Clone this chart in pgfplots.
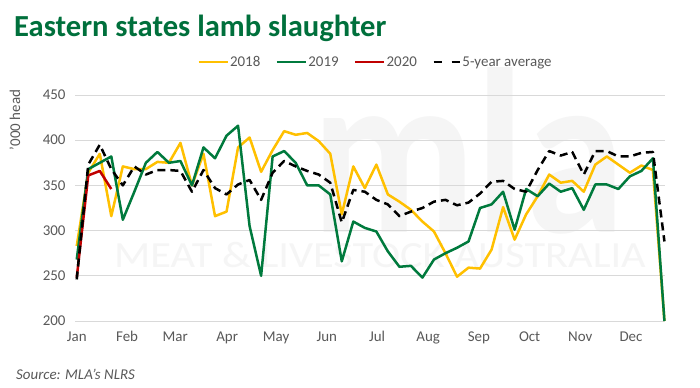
\documentclass[border=0pt]{standalone}
\usepackage{pgfplots}
\pgfplotsset{compat=1.18}
\usepackage{fontspec}
\setmainfont{Carlito}
\definecolor{mlagreen}{RGB}{0,122,61}
\definecolor{titlegreen}{RGB}{0,112,60}
\definecolor{gold}{RGB}{255,192,0}
\definecolor{xred}{RGB}{192,0,0}
\definecolor{txt}{RGB}{89,89,89}
\definecolor{gridc}{RGB}{217,217,217}
\definecolor{wm}{RGB}{245,245,245}

\pgfplotstableread{
i y2018 y2019 avg
0 283 268 246
1 364 368 373
2 385 375 395
3 316 382 368
4 371 312 350
5 368 343 371
6 368 375 362
7 376 387 367
8 375 375 367
9 397 377 366
10 350 350 343
11 385 392 367
12 316 380 347
13 321 405 340
14 392 416 351
15 403 305 356
16 365 250 334
17 389 382 364
18 410 388 377
19 406 375 371
20 408 350 366
21 399 350 362
22 385 340 353
23 318 266 309
24 371 310 345
25 347 303 343
26 373 299 334
27 340 277 329
28 332 260 316
29 323 261 321
30 310 248 325
31 299 268 332
32 275 275 334
33 249 281 328
34 259 288 331
35 258 325 341
36 279 329 354
37 326 343 355
38 290 301 346
39 318 346 343
40 338 338 367
41 362 352 388
42 353 343 383
43 355 347 387
44 343 323 362
45 373 351 388
46 382 351 388
47 373 346 382
48 364 360 382
49 372 366 386
50 367 380 387
51 200 200 288
}\datatable

\pgfplotstableread{
i y2020
0 248
1 361
2 366
3 346
}\redtable

\begin{document}
\begin{tikzpicture}[x=1bp,y=1bp]
\fill[white] (0,0) rectangle (700,387);
% watermark
\node[inner sep=0, text=wm, xscale=0.86, font=\fontsize{236}{236}\selectfont\bfseries, anchor=base] at (468,155) {mla};
\node[inner sep=0, text=wm, xscale=1.15, font=\fontsize{37}{37}\selectfont] at (380,132) {MEAT \& LIVESTOCK AUSTRALIA};
% title
\node[inner sep=0, anchor=base west, text=titlegreen, font=\fontsize{30.7}{30.7}\selectfont\bfseries] at (14,351) {Eastern states lamb slaughter};
% source
\node[inner sep=0, anchor=base west, text=txt, font=\fontsize{15}{15}\selectfont\itshape] at (16,8) {Source: MLA’s NLRS};
% y label
\node[inner sep=0, rotate=90, text=txt, font=\fontsize{15}{15}\selectfont] at (15,267) {’000 head};
\begin{axis}[
  at={(75bp,66bp)}, anchor=south west,
  scale only axis, width=590bp, height=226bp,
  xmin=-0.15, xmax=51.05, ymin=200, ymax=450,
  clip=false,
  axis line style={draw=none},
  ytick={200,250,300,350,400,450},
  xtick={0,4.37,8.54,13.05,17.3,21.7,26.07,30.5,34.9,39.3,43.7,48.1},
  xticklabels={Jan,Feb,Mar,Apr,May,Jun,Jul,Aug,Sep,Oct,Nov,Dec},
  ymajorgrids, grid style={gridc, line width=0.8bp},
  major tick length=0pt,
  tick label style={text=txt, font=\fontsize{15}{15}\selectfont},
  /pgf/number format/assume math mode=true,
  yticklabel style={xshift=-6bp},
  xticklabel style={yshift=-7bp},
  legend columns=4,
  legend style={at={(axis description cs:0.509,1.146)}, anchor=center,
    draw=none, fill=none, text=txt, font=\fontsize{15}{15}\selectfont,
    nodes={inner sep=1.5bp},
    /tikz/every odd column/.append style={column sep=0bp},
    /tikz/every even column/.append style={column sep=14bp}},
  legend image code/.code={\draw[#1, line width=2bp] (0bp,0bp) -- (29bp,0bp);},
  every axis plot/.append style={line width=2.5bp, line join=round},
]
\addplot[gold, no markers] table[x=i, y=y2018] {\datatable};
\addlegendentry{2018}
\addplot[mlagreen, no markers] table[x=i, y=y2019] {\datatable};
\addlegendentry{2019}
\addplot[xred, no markers] table[x=i, y=y2020] {\redtable};
\addlegendentry{2020}
\addplot[black, no markers, dash pattern=on 8bp off 5bp,
  legend image code/.code={\draw[black, line width=2.5bp, dash pattern=on 8bp off 10bp] (0bp,0bp) -- (26bp,0bp);}] table[x=i, y=avg] {\datatable};
\addlegendentry{5-year average}
\end{axis}
\end{tikzpicture}
\end{document}
